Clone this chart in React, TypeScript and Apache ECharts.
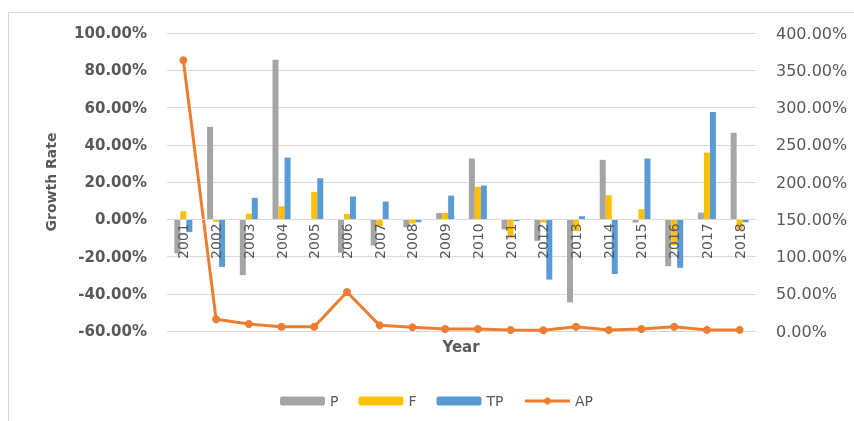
import React, { useEffect, useRef } from "react";
import * as echarts from "echarts";

const years = ["2001","2002","2003","2004","2005","2006","2007","2008","2009","2010","2011","2012","2013","2014","2015","2016","2017","2018"];
const P = [-18.4, 49.6, -30.0, 85.7, 0.0, -18.0, -14.1, -4.3, 3.4, 32.6, -5.5, -11.6, -44.6, 31.9, -1.8, -25.2, 3.6, 46.4];
const F = [4.3, -1.4, 3.0, 7.0, 14.7, 2.9, -3.8, -2.3, 3.4, 17.4, -10.0, -1.8, -6.4, 12.9, 5.4, -14.0, 35.8, -5.5];
const TP = [-6.8, -25.6, 11.5, 33.1, 22.0, 12.2, 9.5, -1.6, 12.7, 18.1, -1.0, -32.4, 1.6, -29.4, 32.6, -26.1, 57.6, -1.6];
const AP = [363.5, 15.7, 9.4, 5.8, 5.8, 52.3, 7.6, 4.9, 2.7, 2.7, 1.3, 1.0, 5.8, 1.3, 2.7, 5.8, 1.5, 1.5];

const LEFT_MIN = -60;
const LEFT_MAX = 100;
const RIGHT_MIN = 0;
const RIGHT_MAX = 400;

const FONT = "DejaVu Sans";
const pct = (v: number) => v.toFixed(2) + "%";

export default function App() {
  const ref = useRef<HTMLDivElement>(null);
  useEffect(() => {
    if (!ref.current) return;
    const chart = echarts.init(ref.current, undefined, { renderer: "svg" });
    const gridTop = 33;
    const gridBottom = 90;
    const gridH = 421 - gridTop - gridBottom;
    const zeroOffset = -gridH * (0 - LEFT_MIN) / (LEFT_MAX - LEFT_MIN);
    const barCommon = { type: "bar", barGap: "0%", barCategoryGap: "45%", yAxisIndex: 0 };
    chart.setOption({
      animation: false,
      textStyle: { fontFamily: FONT },
      grid: { left: 167, right: 98, top: gridTop, bottom: gridBottom },
      graphic: [
        { type: "rect", shape: { x: 8.5, y: 12.5, width: 1000, height: 600 }, style: { fill: "none", stroke: "#D9D9D9", lineWidth: 1 }, silent: true },
        { type: "text", x: 461, y: 347, style: { text: "Year", fontFamily: FONT, fontWeight: "bold", fontSize: 15, fill: "#595959", align: "center", verticalAlign: "middle" } },
      ],
      legend: {
        left: 275,
        top: 389,
        itemWidth: 45,
        itemHeight: 9,
        itemGap: 20,
        textStyle: { fontFamily: FONT, fontSize: 14, color: "#595959" },
        data: [
          "P",
          "F",
          "TP",
          { name: "AP", lineStyle: { width: 3, color: "#ED7D31" }, itemStyle: { color: "#ED7D31" } },
        ],
      },
      xAxis: {
        type: "category",
        data: years,
        z: 10,
        position: "bottom",
        offset: zeroOffset,
        axisLine: { onZero: false, lineStyle: { color: "#D9D9D9" } },
        axisTick: { show: false },
        axisLabel: { rotate: 90, margin: 4, color: "#595959", fontSize: 14, fontFamily: FONT, interval: 0 },
      },
      yAxis: [
        {
          type: "value",
          min: LEFT_MIN,
          max: LEFT_MAX,
          interval: 20,
          name: "Growth Rate",
          nameLocation: "middle",
          nameRotate: 90,
          nameGap: 109,
          nameTextStyle: { fontFamily: FONT, fontWeight: "bold", fontSize: 14, color: "#595959" },
          axisLine: { show: false },
          axisTick: { show: false },
          axisLabel: { formatter: pct, color: "#595959", fontWeight: "bold", fontSize: 15, fontFamily: FONT, margin: 20 },
          splitLine: { lineStyle: { color: "#D9D9D9" } },
        },
        {
          type: "value",
          min: RIGHT_MIN,
          max: RIGHT_MAX,
          interval: 50,
          position: "right",
          axisLine: { show: false },
          axisTick: { show: false },
          axisLabel: { formatter: pct, color: "#595959", fontSize: 16, fontFamily: FONT, margin: 20 },
          splitLine: { show: false },
        },
      ],
      series: [
        { ...barCommon, name: "P", data: P, itemStyle: { color: "#A5A5A5" } },
        { ...barCommon, name: "F", data: F, itemStyle: { color: "#FFC000" } },
        { ...barCommon, name: "TP", data: TP, itemStyle: { color: "#5B9BD5" } },
        {
          type: "line",
          name: "AP",
          yAxisIndex: 1,
          data: AP,
          symbol: "circle",
          symbolSize: 8,
          lineStyle: { color: "#ED7D31", width: 3 },
          itemStyle: { color: "#ED7D31" },
          z: 5,
        },
      ],
    });
    return () => chart.dispose();
  }, []);
  return <div ref={ref} style={{ position: "fixed", left: 0, top: 0, width: 854, height: 421 }} />;
}
